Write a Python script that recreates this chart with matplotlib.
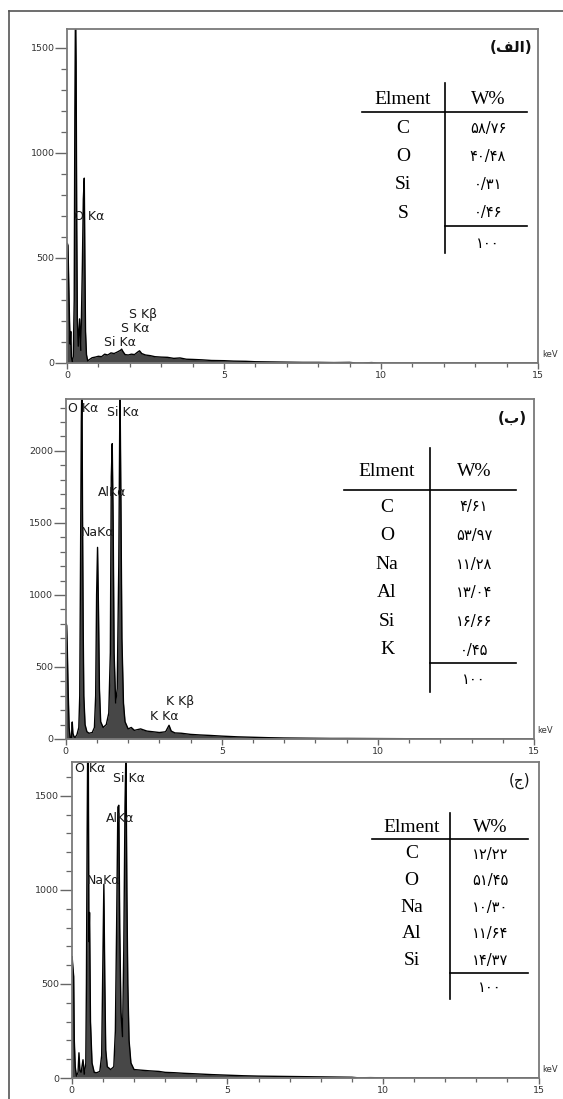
import matplotlib
matplotlib.use("Agg")
import matplotlib.pyplot as plt
from matplotlib.lines import Line2D
from matplotlib.ticker import MultipleLocator, FixedLocator

W, H, DPI = 563, 1099, 100

# ---------------- data ----------------
energy_a = [0.00, 0.01, 0.03, 0.05, 0.08, 0.10, 0.12, 0.14, 0.17, 0.20, 0.23, 0.25, 0.27, 0.29,
            0.31, 0.33, 0.36, 0.40, 0.44, 0.47, 0.49, 0.52, 0.55, 0.57, 0.59, 0.62, 0.66, 0.70,
            0.80, 0.90, 1.00, 1.10, 1.20, 1.30, 1.40, 1.50, 1.60, 1.70, 1.74, 1.78, 1.85, 1.95,
            2.05, 2.15, 2.25, 2.31, 2.38, 2.50, 2.65, 2.80, 3.00, 3.20, 3.40, 3.60, 3.80, 4.00,
            4.30, 4.60, 5.00, 5.30, 5.70, 6.00, 6.50, 7.00, 7.50, 8.00, 8.50, 9.00, 9.20, 9.40,
            9.70, 9.90, 15.0]
counts_a = [0, 570, 560, 420, 200, 90, 150, 30, 5, 30, 300, 1180, 1700, 1430,
            650, 200, 80, 210, 60, 300, 470, 780, 880, 470, 150, 40, 10, 15,
            25, 28, 32, 30, 42, 38, 48, 45, 52, 60, 66, 55, 40, 38,
            42, 40, 52, 58, 45, 38, 35, 30, 28, 27, 22, 24, 18, 17,
            15, 12, 11, 9, 8, 6, 5, 4, 3, 3, 2, 3, 0, 0,
            2, 0, 0]

energy_b = [0.00, 0.01, 0.03, 0.05, 0.08, 0.11, 0.14, 0.18, 0.21, 0.23, 0.26, 0.30, 0.36, 0.42,
            0.45, 0.48, 0.50, 0.52, 0.54, 0.56, 0.58, 0.62, 0.68, 0.75, 0.85, 0.92, 0.96, 0.99,
            1.02, 1.05, 1.08, 1.12, 1.20, 1.30, 1.38, 1.43, 1.46, 1.49, 1.52, 1.55, 1.60, 1.65,
            1.70, 1.73, 1.74, 1.77, 1.80, 1.85, 1.90, 2.00, 2.10, 2.20, 2.40, 2.60, 2.80, 3.00,
            3.20, 3.31, 3.38, 3.50, 3.70, 4.00, 4.30, 4.60, 5.00, 5.50, 6.00, 6.50, 7.00, 7.50,
            8.00, 8.50, 9.00, 10.0, 11.0, 12.0, 15.0]
counts_b = [0, 800, 790, 640, 320, 80, 10, 5, 118, 40, 20, 10, 30, 80,
            300, 1420, 2200, 2500, 1500, 770, 300, 100, 50, 40, 45, 80, 300, 1000,
            1330, 900, 350, 120, 80, 100, 180, 600, 1820, 2050, 1500, 600, 250, 350,
            1200, 2160, 2450, 1600, 700, 250, 120, 70, 80, 60, 70, 55, 50, 45,
            50, 95, 55, 42, 40, 32, 28, 25, 20, 15, 12, 9, 7, 6,
            5, 4, 4, 3, 2, 1, 0]

energy_c = [0.00, 0.01, 0.03, 0.06, 0.08, 0.11, 0.15, 0.20, 0.23, 0.26, 0.30, 0.36, 0.40, 0.45,
            0.47, 0.49, 0.51, 0.53, 0.55, 0.57, 0.60, 0.65, 0.72, 0.80, 0.90, 0.96, 1.00, 1.03,
            1.06, 1.09, 1.14, 1.25, 1.35, 1.40, 1.44, 1.48, 1.51, 1.54, 1.58, 1.63, 1.67, 1.71,
            1.74, 1.77, 1.80, 1.84, 1.90, 2.00, 2.20, 2.50, 2.80, 3.00, 3.30, 3.60, 4.00, 4.50,
            5.00, 5.50, 6.00, 6.50, 7.00, 7.50, 8.00, 8.50, 9.00, 9.20, 9.60, 10.0, 15.0]
counts_c = [0, 645, 600, 540, 200, 60, 10, 30, 134, 40, 30, 97, 20, 80,
            500, 1210, 1750, 1750, 725, 880, 300, 80, 30, 28, 35, 120, 640, 1030,
            520, 150, 60, 45, 60, 250, 800, 1440, 1450, 800, 350, 220, 680, 1450,
            1750, 982, 500, 200, 80, 45, 42, 38, 35, 30, 28, 25, 22, 18,
            15, 12, 10, 9, 8, 7, 6, 5, 4, 1, 2, 1, 0]

peak_labels_a = ["O Kα", "Si Kα", "S Kα", "S Kβ"]
peak_labels_b = ["O Kα", "Si Kα", "AlKα", "NaKα", "K Kβ", "K Kα"]
peak_labels_c = ["O Kα", "Si Kα", "AlKα", "NaKα"]

elements_a = ["C", "O", "Si", "S"]
weights_a = [58.76, 40.48, 0.31, 0.46]
elements_b = ["C", "O", "Na", "Al", "Si", "K"]
weights_b = [4.61, 53.97, 11.28, 13.04, 16.66, 0.45]
elements_c = ["C", "O", "Na", "Al", "Si"]
weights_c = [12.22, 51.45, 10.30, 11.64, 14.37]
total_weight = 100

header_labels = ["Elment", "W%"]
panel_titles = ["(\uFED2\uFEDF\uFE8D)", "(\uFE8F)", "(\uFE9D)"]
x_ticks = [0, 5, 10, 15]
y_ticks = [0, 500, 1000, 1500, 2000]
x_unit = "keV"

# ---------------- helpers ----------------
PERSIAN = str.maketrans("0123456789", "۰۱۲۳۴۵۶۷۸۹")


def fa(v, decimals=2):
    s = f"{v:.{decimals}f}".replace(".", "/")
    return s.translate(PERSIAN)


def fx(px):
    return px / W


def fy(py):
    return 1 - py / H


fig = plt.figure(figsize=(W / DPI, H / DPI), dpi=DPI)
fig.patch.set_facecolor("white")

# outer frame (left and top edges)
fig.add_artist(Line2D([fx(9), fx(9)], [fy(11), fy(1105)], color="#555555", lw=1.2))
fig.add_artist(Line2D([fx(9), fx(570)], [fy(11), fy(11)], color="#555555", lw=1.2))

panels = [
    dict(box=(67, 538, 29, 363), ymax=1590, E=energy_a, C=counts_a, labels=peak_labels_a,
         lab_pos=[(74, 217), (104, 343), (121, 329), (129, 315)],
         title_pos=(511, 47), title_bold=True,
         elements=elements_a, weights=weights_a,
         tbl=dict(el_x=403, w_x=488, head_y=100, row0=129, dy=28, vx=445, vy0=83, vy1=253,
                  hy=112, hx0=362, hx1=527, sy=226, ty=243)),
    dict(box=(65.7, 534, 399, 739), ymax=2360, E=energy_b, C=counts_b, labels=peak_labels_b,
         lab_pos=[(67.5, 408), (106.6, 413), (97.7, 493), (80.8, 532), (166, 702), (150, 717)],
         title_pos=(512, 418), title_bold=True,
         elements=elements_b, weights=weights_b,
         tbl=dict(el_x=387, w_x=474, head_y=472, row0=507, dy=28.6, vx=430, vy0=448, vy1=692,
                  hy=490, hx0=344, hx1=516, sy=663, ty=679)),
    dict(box=(71.8, 538.6, 762, 1078), ymax=1680, E=energy_c, C=counts_c, labels=peak_labels_c,
         lab_pos=[(74.7, 769), (113, 778), (106, 819), (87, 880)],
         title_pos=(520, 781), title_bold=False,
         elements=elements_c, weights=weights_c,
         tbl=dict(el_x=411.7, w_x=490, head_y=827, row0=854, dy=26.6, vx=450, vy0=813, vy1=999,
                  hy=838.7, hx0=372, hx1=528, sy=972.7, ty=987)),
]

SPINE = "#7a7a7a"
for idx, p in enumerate(panels):
    L, R, T, B = p["box"]
    ax = fig.add_axes([fx(L), fy(B), fx(R) - fx(L), (B - T) / H])
    ax.fill_between(p["E"], p["C"], 0, color="#474747", lw=0)
    ax.plot(p["E"], p["C"], color="black", lw=1.0)
    ax.set_xlim(0, 15)
    ax.set_ylim(0, p["ymax"])
    for s in ax.spines.values():
        s.set_color(SPINE)
        s.set_linewidth(1.3)
    ax.xaxis.set_major_locator(FixedLocator(x_ticks))
    ax.xaxis.set_minor_locator(MultipleLocator(1))
    ax.yaxis.set_major_locator(FixedLocator([t for t in y_ticks if t <= p["ymax"]]))
    ax.yaxis.set_minor_locator(MultipleLocator(100))
    ax.tick_params(axis="y", which="major", direction="out", length=8.5, width=1.0,
                   color="#666666", labelsize=6.8, labelcolor="#333333", pad=0.5)
    ax.tick_params(axis="y", which="minor", direction="out", length=4.5, width=0.9,
                   color="#666666")
    ax.tick_params(axis="x", which="major", direction="out", length=4, width=1.0,
                   color="#666666", labelsize=6.8, labelcolor="#333333", pad=1.5)
    ax.tick_params(axis="x", which="minor", direction="out", length=3, width=0.9,
                   color="#666666")
    ax.text(1.008, 0.012, x_unit, transform=ax.transAxes, fontsize=6, color="#333333",
            ha="left", va="bottom")

    # peak labels
    for lab, (lx, ly) in zip(p["labels"], p["lab_pos"]):
        fig.text(fx(lx), fy(ly), lab, ha="left", va="center", fontsize=9,
                 color="#1a1a1a", family="DejaVu Sans")

    # panel title
    tx, ty = p["title_pos"]
    fig.text(fx(tx), fy(ty), panel_titles[idx], ha="center", va="center",
             fontsize=11, fontweight="bold" if p["title_bold"] else "normal",
             family="DejaVu Sans", color="#111111")

    # table
    t = p["tbl"]
    fig.text(fx(t["el_x"]), fy(t["head_y"]), header_labels[0], ha="center", va="center",
             fontsize=14, family="Liberation Serif")
    fig.text(fx(t["w_x"]), fy(t["head_y"]), header_labels[1], ha="center", va="center",
             fontsize=14, family="Liberation Serif")
    for i, (el, wv) in enumerate(zip(p["elements"], p["weights"])):
        yy = t["row0"] + i * t["dy"]
        fig.text(fx(t["el_x"]), fy(yy), el, ha="center", va="center", fontsize=14,
                 family="Liberation Serif")
        fig.text(fx(t["w_x"]), fy(yy), fa(wv), ha="center", va="center", fontsize=10.5,
                 family="DejaVu Sans")
    fig.text(fx(t["w_x"]), fy(t["ty"]), str(total_weight).translate(PERSIAN), ha="center",
             va="center", fontsize=10.5, family="DejaVu Sans")
    fig.add_artist(Line2D([fx(t["vx"])] * 2, [fy(t["vy0"]), fy(t["vy1"])], color="black", lw=1.2))
    fig.add_artist(Line2D([fx(t["hx0"]), fx(t["hx1"])], [fy(t["hy"])] * 2, color="black", lw=1.2))
    fig.add_artist(Line2D([fx(t["vx"]), fx(t["hx1"])], [fy(t["sy"])] * 2, color="black", lw=1.2))

fig.savefig("out.png", dpi=DPI, facecolor="white")
